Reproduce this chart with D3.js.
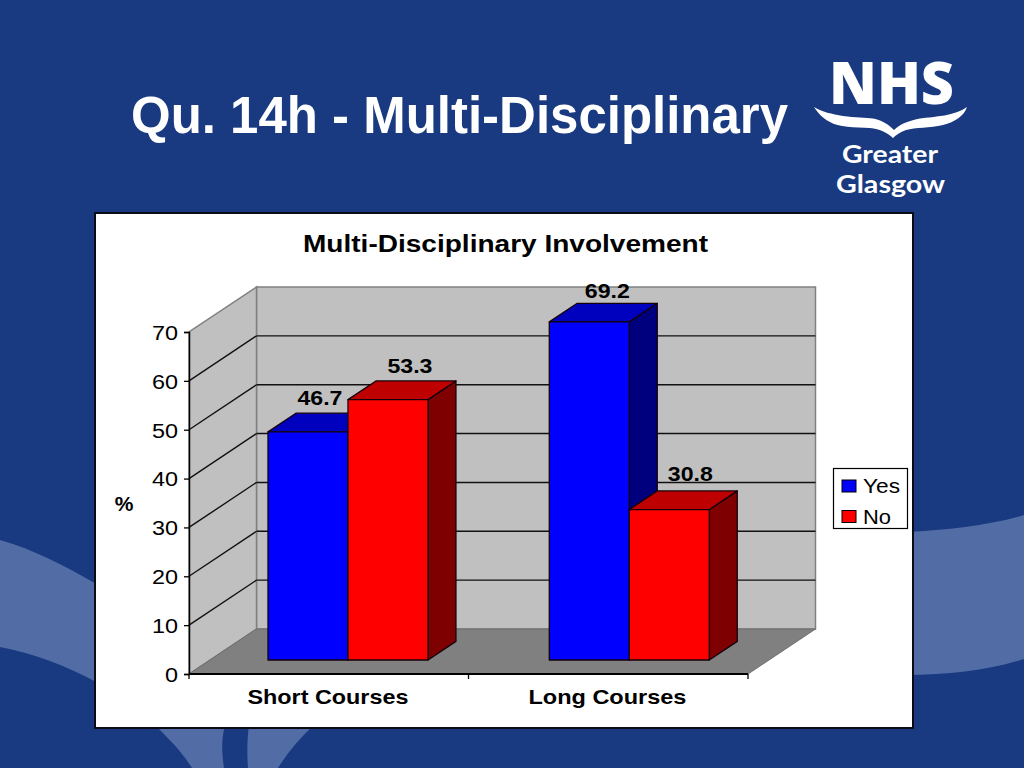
<!DOCTYPE html>
<html>
<head>
<meta charset="utf-8">
<script src="https://cdn.jsdelivr.net/npm/d3@7"></script>
<style>
html,body{margin:0;padding:0;background:#193a80;overflow:hidden}
svg{display:block}
text{font-family:"Liberation Sans",Arial,sans-serif}
</style>
</head>
<body>
<svg id="c" width="1024" height="768"></svg>
<script>
const categories = ["Short Courses", "Long Courses"];
const seriesNames = ["Yes", "No"];
const yesValues = [46.7, 69.2];
const noValues = [53.3, 30.8];
const yTicks = [0, 10, 20, 30, 40, 50, 60, 70];
const chartTitle = "Multi-Disciplinary Involvement";
const pageTitle = "Qu. 14h - Multi-Disciplinary";
const yAxisTitle = "%";

const svg = d3.select("#c");
const BG = "#193a80", SW = "#526da5";

// ---------- page background ----------
svg.append("rect").attr("width",1024).attr("height",768).attr("fill",BG);
const sw = svg.append("g").attr("fill",SW);
sw.append("path").attr("d","M0,540 C35,550 65,566 100,586 L100,684 C65,665 35,654 0,647 Z");
sw.append("path").attr("d","M905,532 C950,530 990,525 1024,515 L1024,659 C990,670 950,675 905,675 Z");
sw.append("path").attr("d","M155,725 L225,725 C221,740 222,755 224,768 L192,768 C182,752 170,740 155,725 Z");
sw.append("path").attr("d","M249,725 L314,725 C300,738 288,752 278,768 L248,768 C247,755 247,740 249,725 Z");

svg.append("text").attr("x",131).attr("y",133).attr("fill","#fff")
  .attr("font-size",51).attr("font-weight",700)
  .attr("textLength",657).attr("lengthAdjust","spacingAndGlyphs").text(pageTitle);

// ---------- logo ----------
const logo = svg.append("g").attr("fill","#fff");
logo.append("text").attr("x",829).attr("y",104)
  .style("font-family","'Open Sans',sans-serif").attr("font-size",58).attr("font-weight",800)
  .attr("textLength",125).attr("lengthAdjust","spacingAndGlyphs").text("NHS");
logo.append("path").attr("d","M814,107 C822,112 832,114 843,116 C855,117.5 866,117.5 873,118.5 C882,120 889,125 894,130 C899,125 907,121 920,118.5 C935,116.5 955,116 967,107 C964,116 955,122 943,125 C930,128 915,127.5 906,130 C900,132 896,135 893,138 C888,133 880,129 870,128 C855,127.5 838,127 830,122 C822,118 818,113 814,107 Z");
logo.append("text").attr("x",842).attr("y",163)
  .style("font-family","Lato,sans-serif").attr("font-size",25).attr("font-weight",700)
  .attr("textLength",96).attr("lengthAdjust","spacingAndGlyphs").text("Greater");
logo.append("text").attr("x",836).attr("y",193)
  .style("font-family","Lato,sans-serif").attr("font-size",25).attr("font-weight",700)
  .attr("textLength",109).attr("lengthAdjust","spacingAndGlyphs").text("Glasgow");

// ---------- chart frame ----------
svg.append("rect").attr("x",95).attr("y",213).attr("width",818).attr("height",515)
  .attr("fill","#fff").attr("stroke","#0c0c14").attr("stroke-width",2);
svg.append("text").attr("x",505.5).attr("y",252).attr("text-anchor","middle").attr("fill","#000")
  .attr("font-size",23).attr("font-weight",700)
  .attr("textLength",405).attr("lengthAdjust","spacingAndGlyphs").text(chartTitle);

// ---------- scales ----------
const x = d3.scaleBand().domain(categories).range([189,748]);
const barBand = d3.scaleBand().domain(categories).range([189,751.6]);
const inner = d3.scaleBand().domain(seriesNames).range([58,218]);
const y = d3.scaleLinear().domain([0,70]).range([674,332]);
const depthX = d3.scaleLinear().domain([0,1]).range([0,67.5]);
const depthY = d3.scaleLinear().domain([0,1]).range([0,-45]);
const pt = (px,v,d) => [px + depthX(d), y(v) + depthY(d)];
const poly = pts => "M" + pts.map(p => p.join(",")).join("L") + "Z";

const xL = x.range()[0], xR = x.range()[1], yMax = yTicks[yTicks.length-1];

// ---------- walls and floor ----------
const plot = svg.append("g");
plot.append("path").attr("d",poly([pt(xL,0,1),pt(xR,0,1),pt(xR,yMax,1),pt(xL,yMax,1)]))
  .attr("fill","#c0c0c0").attr("stroke","#808080").attr("stroke-width",1.5);
plot.append("path").attr("d",poly([pt(xL,0,0),pt(xL,0,1),pt(xL,yMax,1),pt(xL,yMax,0)]))
  .attr("fill","#c0c0c0").attr("stroke","#808080").attr("stroke-width",1.5);
plot.append("path").attr("d",poly([pt(xL,0,0),pt(xR,0,0),pt(xR,0,1),pt(xL,0,1)]))
  .attr("fill","#808080").attr("stroke","#6e6e6e").attr("stroke-width",1);

const grid = yTicks.filter(t => t > 0 && t < yMax);
plot.selectAll("path.gb").data(grid).join("path").attr("class","gb")
  .attr("d",t => d3.line()([pt(xL,t,1),pt(xR,t,1)]))
  .attr("stroke","#111").attr("stroke-width",1.4).attr("fill","none");
plot.selectAll("path.gs").data(grid).join("path").attr("class","gs")
  .attr("d",t => d3.line()([pt(xL,t,0),pt(xL,t,1)]))
  .attr("stroke","#111").attr("stroke-width",1.4).attr("fill","none");

// ---------- axes ----------
const axisY = svg.append("g").attr("transform",`translate(${xL},0)`)
  .call(d3.axisLeft(y).tickValues(yTicks).tickSize(5).tickPadding(6));
axisY.select(".domain").attr("stroke","#000").attr("stroke-width",1.5);
axisY.selectAll(".tick line").attr("stroke","#000").attr("stroke-width",1.3);
axisY.selectAll(".tick text").attr("font-size",20).attr("fill","#000").attr("dy","0.37em")
  .style("font-family","'Liberation Sans',Arial,sans-serif")
  .attr("textLength",t => t === 0 ? 13 : 26).attr("lengthAdjust","spacingAndGlyphs");

const axisX = svg.append("g").attr("transform",`translate(0,${y(0)})`);
axisX.append("line").attr("x1",xL).attr("x2",xR).attr("stroke","#000").attr("stroke-width",1.8);
axisX.selectAll("line.t").data([xL, x(categories[1]), xR]).join("line").attr("class","t")
  .attr("x1",d=>d).attr("x2",d=>d).attr("y1",0).attr("y2",5).attr("stroke","#000").attr("stroke-width",1.3);
const catWidths = [161, 158];
axisX.selectAll("text").data(categories).join("text")
  .attr("x",d => x(d) + x.bandwidth()/2 - 0.8).attr("y",30).attr("text-anchor","middle")
  .attr("font-size",21).attr("font-weight",700).attr("fill","#000")
  .attr("textLength",(d,i) => catWidths[i]).attr("lengthAdjust","spacingAndGlyphs").text(d=>d);

svg.append("text").attr("x",124).attr("y",511).attr("text-anchor","middle")
  .attr("font-size",21).attr("font-weight",700).attr("fill","#000").text(yAxisTitle);

// ---------- bars ----------
const palette = {
  Yes:{front:"#0000ff",top:"#0000bf",side:"#00007f"},
  No:{front:"#ff0000",top:"#bf0000",side:"#7f0000"}
};
const valuesBy = {Yes:yesValues, No:noValues};
const D0 = 0.311, D1 = 0.725;
const labelDx = {Yes:[12,18], No:[22,21]};
const labelDy = {Yes:[-27,-24], No:[-27,-29]};
const bars = svg.append("g");
const labels = svg.append("g");
categories.forEach((cat,ci) => {
  seriesNames.forEach(s => {
    const v = valuesBy[s][ci];
    const a = barBand(cat) + inner(s), b = a + inner.bandwidth();
    const c = palette[s];
    const g = bars.append("g").attr("stroke","#14000a").attr("stroke-width",1.3).attr("stroke-linejoin","round");
    g.append("path").attr("d",poly([pt(b,0,D0),pt(b,0,D1),pt(b,v,D1),pt(b,v,D0)])).attr("fill",c.side);
    g.append("path").attr("d",poly([pt(a,v,D0),pt(b,v,D0),pt(b,v,D1),pt(a,v,D1)])).attr("fill",c.top);
    g.append("path").attr("d",poly([pt(a,0,D0),pt(b,0,D0),pt(b,v,D0),pt(a,v,D0)])).attr("fill",c.front);
    const f = pt((a+b)/2,v,D0);
    labels.append("text").attr("x",f[0]+labelDx[s][ci]).attr("y",f[1]+labelDy[s][ci])
      .attr("text-anchor","middle").attr("font-size",20).attr("font-weight",700).attr("fill","#000")
      .attr("textLength",45).attr("lengthAdjust","spacingAndGlyphs").text(v.toFixed(1));
  });
});

// ---------- legend ----------
const legend = svg.append("g");
legend.append("rect").attr("x",833.5).attr("y",468.5).attr("width",74).attr("height",60)
  .attr("fill","#fff").attr("stroke","#000").attr("stroke-width",1.2);
const legY = d3.scalePoint().domain(seriesNames).range([486,516.5]);
const legW = {Yes:37, No:28};
seriesNames.forEach(s => {
  legend.append("rect").attr("x",842).attr("y",legY(s)-6).attr("width",14).attr("height",12)
    .attr("fill",palette[s].front).attr("stroke","#000").attr("stroke-width",1);
  legend.append("text").attr("x",863).attr("y",legY(s)+7).attr("font-size",21).attr("fill","#000")
    .attr("textLength",legW[s]).attr("lengthAdjust","spacingAndGlyphs").text(s);
});
</script>
</body>
</html>
